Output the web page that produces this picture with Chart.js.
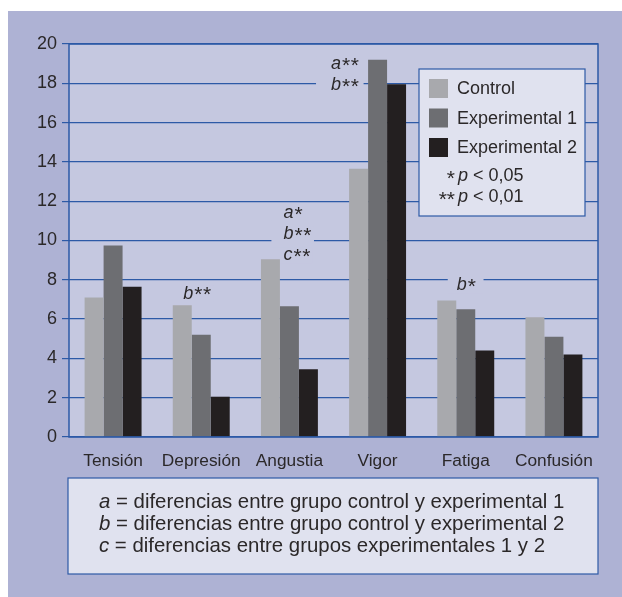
<!DOCTYPE html>
<html>
<head>
<meta charset="utf-8">
<script src="https://cdn.jsdelivr.net/npm/chart.js@4.4.1/dist/chart.umd.min.js"></script>
<style>
  html, body { margin: 0; padding: 0; background: #fff; }
  #wrap { width: 622px; height: 597px; }
</style>
</head>
<body>
<div id="wrap"><canvas id="myChart"></canvas></div>
<script>
// data
const categories = ['Tensión', 'Depresión', 'Angustia', 'Vigor', 'Fatiga', 'Confusión'];
const controlVals = [7.1, 6.7, 9.05, 13.65, 6.95, 6.1];
const exp1Vals = [9.75, 5.2, 6.65, 19.2, 6.5, 5.1];
const exp2Vals = [7.65, 2.05, 3.45, 17.95, 4.4, 4.2];
const yTicks = [0, 2, 4, 6, 8, 10, 12, 14, 16, 18, 20];

// significance marks: category index, text rows, value of first row
const marks = [
  { cat: 3, rows: ['a**', 'b**'], yVal: 18.98, dx: -18, align: 'right', padL: 15, padR: 4 },
  { cat: 2, rows: ['a*', 'b**', 'c**'], yVal: 11.4, dx: -6, align: 'left', padL: 12, padR: 2 },
  { cat: 1, rows: ['b**'], yVal: 7.3, dx: -18, align: 'left', padL: 2, padR: 2 },
  { cat: 4, rows: ['b*'], yVal: 7.72, dx: -9, align: 'left', padL: 9, padR: 7 }
];
const notes = [
  ['a', ' = diferencias entre grupo control y experimental 1'],
  ['b', ' = diferencias entre grupo control y experimental 2'],
  ['c', ' = diferencias entre grupos experimentales 1 y 2']
];

const FONT = "'Liberation Sans', Arial, sans-serif";
const panelBg = '#aeb2d4', plotBg = '#c5c8e0', boxBg = '#e0e2ef';
const blue = '#2d5aa6', ink = '#2b2829';
const colors = ['#a8a9ad', '#6d6e72', '#231f20'];

function markWidth(ctx, s) {
  ctx.font = 'italic 18px ' + FONT;
  const w1 = ctx.measureText(s[0]).width + 1;
  ctx.font = '21px ' + FONT;
  return [w1, ctx.measureText(s.slice(1)).width + s.slice(1).length * 0.6];
}

// draws an italic letter followed by upright stars
function markText(ctx, s, x, y, align) {
  const [w1, w2] = markWidth(ctx, s);
  const x0 = align === 'right' ? x - w1 - w2 : x;
  ctx.textAlign = 'left';
  ctx.textBaseline = 'middle';
  ctx.fillStyle = ink;
  ctx.font = 'italic 18px ' + FONT;
  ctx.fillText(s[0], x0, y);
  ctx.font = '21px ' + FONT;
  let sx = x0 + w1;
  for (const c of s.slice(1)) {
    ctx.fillText(c, sx, y + 2);
    sx += ctx.measureText(c).width + 0.6;
  }
}

const decor = {
  id: 'decor',
  beforeDraw(chart) {
    const { ctx, chartArea: a } = chart;
    ctx.save();
    ctx.fillStyle = '#fff';
    ctx.fillRect(0, 0, chart.width, chart.height);
    ctx.fillStyle = panelBg;
    ctx.fillRect(8, 11, chart.width - 8, chart.height - 11);
    ctx.fillStyle = plotBg;
    ctx.fillRect(a.left, a.top, a.right - a.left, a.bottom - a.top);
    ctx.restore();
  },
  beforeDatasetsDraw(chart) {
    const { ctx } = chart;
    const xs = chart.scales.x, ys = chart.scales.y;
    const rowH = 21.2;
    ctx.save();
    marks.forEach(m => {
      const x = xs.getPixelForValue(m.cat) + m.dx;
      const y0 = ys.getPixelForValue(m.yVal);
      m.rows.forEach((r, i) => {
        const y = y0 + i * rowH;
        // cover the gridline behind the text, then write
        const [w1, w2] = markWidth(ctx, r);
        const tw = w1 + w2;
        const left = m.align === 'right' ? x - tw : x;
        ctx.fillStyle = plotBg;
        ctx.fillRect(left - m.padL, y - 8, tw + m.padL + m.padR, 16);
        markText(ctx, r, x, y, m.align);
      });
    });
    ctx.restore();
  },
  afterDraw(chart) {
    const { ctx, chartArea: a } = chart;
    ctx.save();
    // plot frame
    ctx.strokeStyle = blue;
    ctx.lineWidth = 1.5;
    ctx.strokeRect(a.left, a.top, a.right - a.left, a.bottom - a.top);

    // legend box
    ctx.fillStyle = boxBg;
    ctx.fillRect(419, 69, 166, 147);
    ctx.lineWidth = 1.2;
    ctx.strokeRect(419, 69, 166, 147);
    const names = chart.data.datasets.map(d => d.label);
    ctx.textBaseline = 'middle';
    ctx.textAlign = 'left';
    names.forEach((n, i) => {
      const cy = 88.5 + i * 29.5;
      ctx.fillStyle = colors[i];
      ctx.fillRect(429, cy - 9.5, 19, 19);
      ctx.fillStyle = ink;
      ctx.font = '18px ' + FONT;
      ctx.fillText(n, 457, cy + 1);
    });
    [['*', ' < 0,05', 176], ['**', ' < 0,01', 197]].forEach(([st, rest, y]) => {
      ctx.font = '21px ' + FONT;
      ctx.textAlign = 'right';
      ctx.fillText(st, 455, y + 3);
      ctx.textAlign = 'left';
      ctx.font = 'italic 18px ' + FONT;
      ctx.fillText('p', 458, y);
      const pw = ctx.measureText('p').width;
      ctx.font = '18px ' + FONT;
      ctx.fillText(rest, 458 + pw, y);
    });

    // note box under the chart
    ctx.fillStyle = boxBg;
    ctx.fillRect(68, 478, 530, 96);
    ctx.strokeStyle = blue;
    ctx.strokeRect(68, 478, 530, 96);
    notes.forEach(([l, t], i) => {
      const y = 502 + i * 22;
      ctx.fillStyle = ink;
      ctx.font = 'italic 20.4px ' + FONT;
      ctx.fillText(l, 99, y);
      const lw = ctx.measureText(l).width;
      ctx.font = '20.4px ' + FONT;
      ctx.fillText(t, 99 + lw, y);
    });
    ctx.restore();
  }
};

Chart.defaults.font.family = FONT;
Chart.defaults.color = ink;

let myChart = document.getElementById('myChart').getContext('2d');

let thisChart = new Chart(myChart, {
  type: 'bar',
  data: {
    labels: categories,
    datasets: [
      { label: 'Control', data: controlVals, backgroundColor: colors[0] },
      { label: 'Experimental 1', data: exp1Vals, backgroundColor: colors[1] },
      { label: 'Experimental 2', data: exp2Vals, backgroundColor: colors[2] }
    ]
  },
  options: {
    responsive: true,
    maintainAspectRatio: false,
    animation: false,
    layout: { padding: { left: 0, top: 44, right: 24, bottom: 120 } },
    datasets: { bar: { categoryPercentage: 0.646, barPercentage: 1 } },
    plugins: { legend: { display: false }, tooltip: { enabled: false } },
    scales: {
      x: {
        grid: { display: false },
        border: { display: false },
        ticks: { font: { size: 17.3 }, color: ink, padding: 6, maxRotation: 0 },
        afterFit(s) { s.height = 40; }
      },
      y: {
        min: 0,
        max: 20,
        afterBuildTicks(s) { s.ticks = yTicks.map(v => ({ value: v })); },
        grid: { color: blue, lineWidth: 1.2, tickLength: 7, drawTicks: true },
        border: { display: false },
        ticks: { font: { size: 18 }, color: ink, padding: 5 },
        afterFit(s) { s.width = 69; }
      }
    }
  },
  plugins: [decor]
});
</script>
</body>
</html>
